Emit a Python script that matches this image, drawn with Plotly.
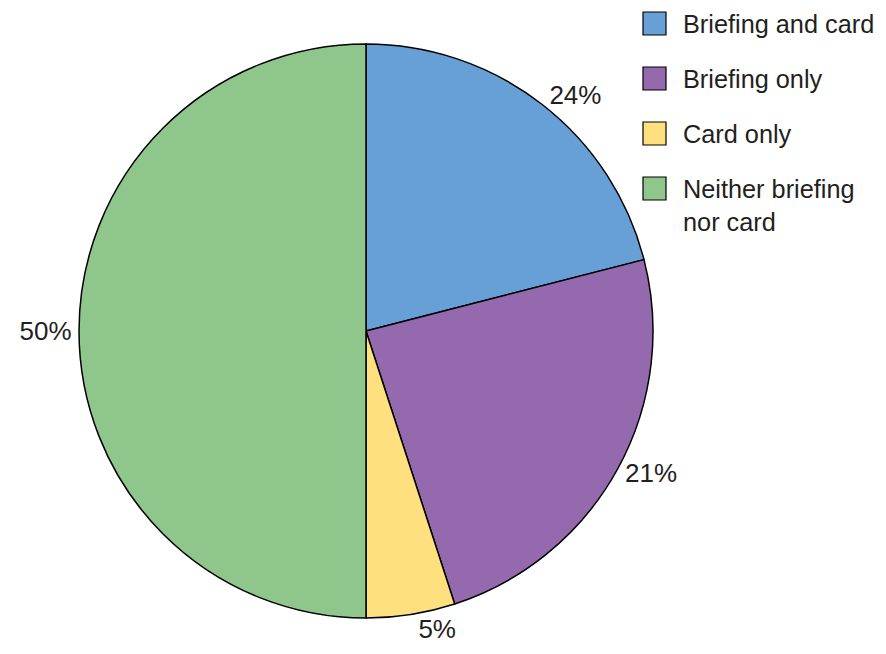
import plotly.graph_objects as go

categories = ["Briefing and card", "Briefing only", "Card only", "Neither briefing<br>nor card"]
values = [21, 24, 5, 50]
value_labels = ["24%", "21%", "5%", "50%"]
colors = ["#66A0D6", "#9569AD", "#FFE07F", "#8FC68B"]

W, H = 886, 654
OFF = 8  # page body margin in the viewer
cx, cy, r = 366 - OFF, 331 - OFF, 287
FONT = "Liberation Sans, Arial, sans-serif"

fig = go.Figure(go.Pie(
    labels=categories,
    values=values,
    text=value_labels,
    textinfo="text",
    textposition="outside",
    sort=False,
    direction="clockwise",
    rotation=0,
    marker=dict(colors=colors, line=dict(color="black", width=1.5)),
    textfont=dict(family=FONT, size=26, color="#231F20"),
    domain=dict(x=[(cx - r) / W, (cx + r) / W], y=[1 - (cy + r) / H, 1 - (cy - r) / H]),
    showlegend=False,
    hoverinfo="label+text",
))

# custom legend with large square swatches
shapes = []
annotations = []
x0, sq, y_top, step = 643 - OFF, 23, 12 - OFF, 55
for i, (name, col) in enumerate(zip(categories, colors)):
    yt = y_top + i * step
    shapes.append(dict(type="rect", xref="paper", yref="paper",
                       x0=x0 / W, x1=(x0 + sq) / W,
                       y0=1 - (yt + sq) / H, y1=1 - yt / H,
                       fillcolor=col, line=dict(color="black", width=1.2)))
    annotations.append(dict(xref="paper", yref="paper", x=(681 - OFF) / W, y=1 - (yt - 4) / H,
                            xanchor="left", yanchor="top", align="left",
                            text=name, showarrow=False,
                            font=dict(family=FONT, size=25.3, color="#231F20")))

fig.update_layout(
    width=W, height=H,
    margin=dict(l=0, r=0, t=0, b=0),
    paper_bgcolor="white", plot_bgcolor="white",
    shapes=shapes, annotations=annotations,
)

fig.write_html("out.html")
